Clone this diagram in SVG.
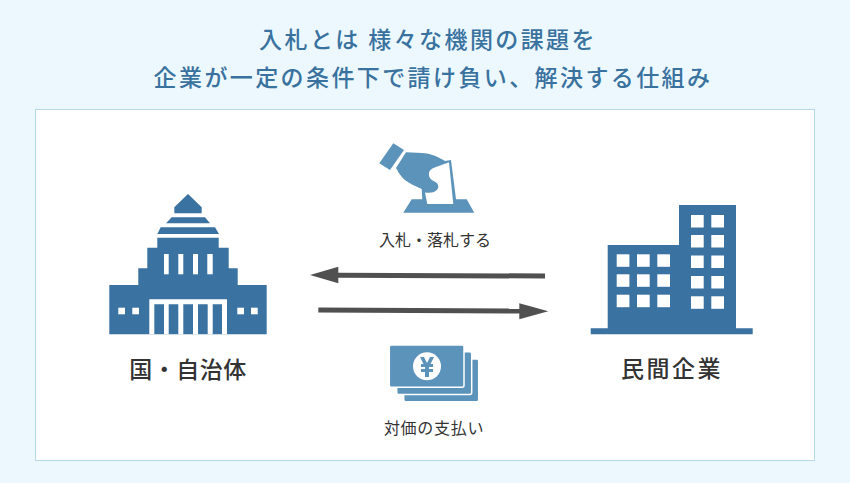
<svg xmlns="http://www.w3.org/2000/svg" width="850" height="483" viewBox="0 0 850 483">
<style>
text{font-family:"Noto Sans CJK JP","Noto Sans",sans-serif;text-anchor:middle}
.title{font-size:23px;font-weight:500;fill:#3a729f;letter-spacing:2.400px}
.big{font-size:23px;font-weight:500;fill:#333}
.small{font-size:16px;font-weight:400;fill:#333;letter-spacing:0}
.dark{fill:#3a72a1}
.light{fill:#5b93ba}
.w{fill:#fff}
.line{stroke:#505050;stroke-width:5;fill:none}
.head{fill:#505050}
.note{fill:#5b93ba;stroke:#fff;stroke-width:1.500}
</style>
<rect width="850" height="483" fill="#ecf8fe"/>
<text class="title" x="428" y="48">入札とは 様々な機関の課題を</text>
<text class="title" x="433" y="85.500">企業が一定の条件下で請け負い、解決する仕組み</text>
<rect x="35.500" y="109.500" width="779" height="351" fill="#fff" stroke="#b9d8e6"/>
<g id="government">
<path class="dark" d="M188 194L201.700 207.300V213.300H174.300V207.300ZM171.700 217.300H205L210 223.300H166ZM160.700 227.300H215L219 234H157.300ZM157.300 237.700H218.700V247.700H228.700V268.300H237.700V285H266.700V334.300H109.300V285H138.300V268.300H147.300V247.700H157.300Z"/>
<g class="w"><rect x="164" y="254" width="4.700" height="20.300"/><rect x="178.300" y="254" width="5" height="20.300"/><rect x="193" y="254" width="5" height="20.300"/><rect x="207.300" y="254" width="5.400" height="20.300"/>
<rect x="118.300" y="307.700" width="6.700" height="6.600"/><rect x="132.300" y="307.700" width="6.700" height="6.600"/><rect x="237.300" y="307.700" width="6.700" height="6.600"/><rect x="251" y="307.700" width="6.700" height="6.600"/>
<path d="M149.300 299.300H227V334.300H222V304.300H154.300V334.300H149.300Z"/><rect x="164" y="304" width="4.700" height="30.300"/><rect x="178.300" y="304" width="5" height="30.300"/><rect x="193" y="304" width="5" height="30.300"/><rect x="207.700" y="304" width="5" height="30.300"/></g>
<text class="big" x="188" y="377.500" style="letter-spacing:.5px">国・自治体</text>
</g>
<g id="company">
<path class="dark" d="M679 205H736V328.300H752.700V334.300H590.700V328.300H607.700V245H679Z"/>
<g class="w"><rect x="691" y="215" width="12.700" height="12.500"/><rect x="711.300" y="215" width="12.700" height="12.500"/><rect x="691" y="235" width="12.700" height="12.500"/><rect x="711.300" y="235" width="12.700" height="12.500"/><rect x="691" y="255.500" width="12.700" height="12.500"/><rect x="711.300" y="255.500" width="12.700" height="12.500"/><rect x="691" y="276" width="12.700" height="12.500"/><rect x="711.300" y="276" width="12.700" height="12.500"/><rect x="691" y="296.300" width="12.700" height="12.500"/><rect x="711.300" y="296.300" width="12.700" height="12.500"/>
<rect x="616.700" y="254.300" width="12.700" height="12.500"/><rect x="637" y="254.300" width="12.700" height="12.500"/><rect x="657.300" y="254.300" width="12.700" height="12.500"/><rect x="616.700" y="274.300" width="12.700" height="12.500"/><rect x="637" y="274.300" width="12.700" height="12.500"/><rect x="657.300" y="274.300" width="12.700" height="12.500"/><rect x="616.700" y="294.700" width="12.700" height="12.500"/><rect x="637" y="294.700" width="12.700" height="12.500"/><rect x="657.300" y="294.700" width="12.700" height="12.500"/></g>
<text class="big" x="672" y="377" style="letter-spacing:2.500px">民間企業</text>
</g>
<g id="bid">
<path class="light" d="M393.300 143.300L404 150L390 170L379.300 163.300Z"/>
<path class="light" d="M406 152.300C413 153 421 152.500 427 153.500C433 154.500 440 158 445 161L451 160L456 199.300H466.700L474.300 212.700H403.300L411.700 199.300H422.300L421.700 189L413 185C408 182 404 180 401.700 176.700C399 174 398 171 396 168Z"/>
<path class="w" d="M436.700 166.700L449 162.300L453.300 204H427.300L425 192.500C428 192.800 431 192.800 433.300 192.300C436 191 438.300 189 438.300 186.700C438.300 184 436.500 182.500 435 181.700C432.500 180.500 430 179 429.300 176.700C428.800 174.500 428.500 172.500 430 170.500C431.500 168.800 434 167.500 436.700 166.700Z"/>
<text class="small" x="435" y="245.500">入札・落札する</text>
</g>
<g id="payment">
<rect class="note" x="403.700" y="359" width="75" height="42.700" rx="2"/>
<rect class="note" x="396.700" y="351.700" width="75" height="42.700" rx="2"/>
<rect class="note" x="389.300" y="345" width="74.700" height="42.300" rx="2"/>
<circle class="w" cx="427" cy="366.300" r="14"/>
<path class="light" d="M420 357H424L427 363L430 357H434L430.500 364H433V367H429V369H433V372H429V377H425V372H421V369H425V367H421V364H423.500Z"/>
<text class="small" x="434" y="433.500" style="letter-spacing:.7px">対価の支払い</text>
</g>
<g id="connectors">
<path class="line" d="M338 275.300L545 276"/><path class="head" d="M310 275L338.300 266.700V283.300Z"/>
<path class="line" d="M318.300 310L520 311"/><path class="head" d="M548.300 311.300L519.300 303.300V319.300Z"/>
</g>
</svg>
